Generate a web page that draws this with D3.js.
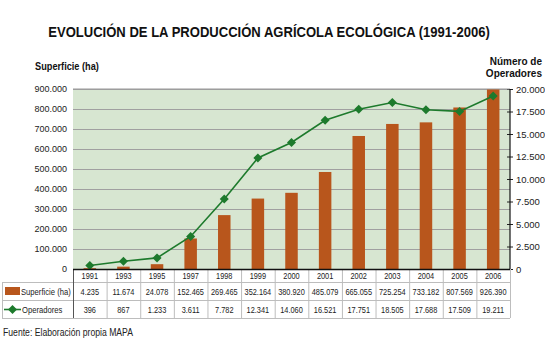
<!DOCTYPE html>
<html>
<head>
<meta charset="utf-8">
<script src="https://cdn.jsdelivr.net/npm/d3@7"></script>
<style>
  body { margin: 0; background: #fff; }
  svg { font-family: "Liberation Sans", Arial, sans-serif; }
</style>
</head>
<body>
<div class="chartWrapper"></div>
<script>
var years = ["1991","1993","1995","1997","1998","1999","2000","2001","2002","2003","2004","2005","2006"];
var superficie = [4235, 11674, 24078, 152465, 269465, 352164, 380920, 485079, 665055, 725254, 733182, 807569, 926390];
var operadores = [396, 867, 1233, 3611, 7782, 12341, 14060, 16521, 17751, 18505, 17688, 17509, 19211];
var leftTicks = [0, 100000, 200000, 300000, 400000, 500000, 600000, 700000, 800000, 900000];
var rightTicks = [0, 2500, 5000, 7500, 10000, 12500, 15000, 17500, 20000];

var width = 545,
    height = 340,
    plot = { left: 73, right: 510, top: 89, bottom: 269 },
    rows = [269, 282, 300, 318],
    orange = "#b8561c",
    green = "#1d7a2c";

var es = d3.formatLocale({ decimal: ",", thousands: ".", grouping: [3], currency: ["", "€"] });
var fmt = es.format(",d");

var svg = d3.select(".chartWrapper")
    .append("svg")
    .attr("width", width)
    .attr("height", height);

// la fuente original es estrecha: se comprime el texto
function condense(sel, k) {
    sel.each(function () {
        var w = this.getComputedTextLength();
        d3.select(this)
            .attr("textLength", w * k)
            .attr("lengthAdjust", "spacingAndGlyphs");
    });
}

var xScale = d3.scaleBand()
    .domain(years)
    .range([plot.left, plot.right]);
var yLeft = d3.scaleLinear()
    .domain([0, 900000])
    .range([plot.bottom, plot.top])
    .clamp(true);
var yRight = d3.scaleLinear()
    .domain([0, 20000])
    .range([plot.bottom, plot.top]);

var mid = function (d) { return xScale(d) + xScale.bandwidth() / 2; };

// titulo (escalado en horizontal para ocupar 442px)
var title = svg.append("text")
    .attr("text-anchor", "middle")
    .style("font-size", "15.5px")
    .style("font-weight", "bold")
    .attr("fill", "#111")
    .text("EVOLUCIÓN DE LA PRODUCCIÓN AGRÍCOLA ECOLÓGICA (1991-2006)");
var titleW = title.node().getComputedTextLength();
title.attr("transform", "translate(269,37) scale(" + (442 / titleW) + ",1)");

svg.append("text")
    .attr("x", 35)
    .attr("y", 70)
    .style("font-size", "10px")
    .style("font-weight", "bold")
    .attr("fill", "#111")
    .text("Superficie (ha)")
    .call(condense, 0.92);

svg.append("text")
    .attr("x", 542)
    .attr("y", 65)
    .attr("text-anchor", "end")
    .style("font-size", "10px")
    .style("font-weight", "bold")
    .attr("fill", "#111")
    .text("Número de");
svg.append("text")
    .attr("x", 542)
    .attr("y", 77)
    .attr("text-anchor", "end")
    .style("font-size", "10px")
    .style("font-weight", "bold")
    .attr("fill", "#111")
    .text("Operadores");

// fondo del area
svg.append("rect")
    .attr("x", plot.left)
    .attr("y", plot.top)
    .attr("width", plot.right - plot.left)
    .attr("height", plot.bottom - plot.top)
    .attr("fill", "#d7e6d1");

// lineas de rejilla
svg.append("g")
    .selectAll("line")
    .data(leftTicks.slice(1))
    .enter()
    .append("line")
    .attr("x1", plot.left)
    .attr("x2", plot.right)
    .attr("y1", function (d) { return yLeft(d) + 0.5; })
    .attr("y2", function (d) { return yLeft(d) + 0.5; })
    .attr("stroke", "#a0a0a0")
    .attr("stroke-width", 1.2);

// eje izquierdo
var yAxisLeft = d3.axisLeft(yLeft)
    .tickValues(leftTicks)
    .tickSize(0)
    .tickPadding(6)
    .tickFormat(fmt);
var gl = svg.append("g")
    .attr("transform", "translate(" + plot.left + ",0)")
    .call(yAxisLeft);
gl.attr("font-family", null);
gl.select(".domain").remove();
gl.selectAll("text")
    .style("font-size", "9px")
    .attr("fill", "#222");

// eje derecho
var yAxisRight = d3.axisRight(yRight)
    .tickValues(rightTicks)
    .tickSize(3)
    .tickPadding(3)
    .tickFormat(fmt);
var gr = svg.append("g")
    .attr("transform", "translate(" + plot.right + ",0)")
    .call(yAxisRight);
gr.attr("font-family", null);
gr.select(".domain").remove();
gr.selectAll(".tick line")
    .attr("x1", -3)
    .attr("stroke", "#222");
gr.selectAll("text")
    .style("font-size", "9.5px")
    .attr("fill", "#222");

// barras
var barW = 12.5;
svg.append("g")
    .selectAll("rect")
    .data(superficie)
    .enter()
    .append("rect")
    .attr("x", function (d, i) { return mid(years[i]) - barW / 2; })
    .attr("y", function (d) { return yLeft(d); })
    .attr("width", barW)
    .attr("height", function (d) { return plot.bottom - yLeft(d); })
    .attr("fill", orange);

// linea de operadores
var linePath = d3.line()
    .x(function (d, i) { return mid(years[i]); })
    .y(function (d) { return yRight(d); });
svg.append("path")
    .attr("d", linePath(operadores))
    .attr("fill", "none")
    .attr("stroke", green)
    .attr("stroke-width", 1.6);

var diamond = d3.symbol().type(d3.symbolDiamond2).size(52);
svg.append("g")
    .selectAll("path")
    .data(operadores)
    .enter()
    .append("path")
    .attr("d", diamond)
    .attr("transform", function (d, i) { return "translate(" + mid(years[i]) + "," + yRight(d) + ")"; })
    .attr("fill", green);

// bordes del area
svg.append("line")
    .attr("x1", plot.left).attr("x2", plot.right)
    .attr("y1", plot.top).attr("y2", plot.top)
    .attr("stroke", "#9a9a9a").attr("stroke-width", 1.2);
svg.append("line")
    .attr("x1", plot.right).attr("x2", plot.right)
    .attr("y1", plot.top).attr("y2", plot.bottom)
    .attr("stroke", "#111").attr("stroke-width", 1.2);

// tabla de datos
var table = svg.append("g");
var gridColor = "#bdbdbd";
[rows[1], rows[2], rows[3]].forEach(function (y) {
    table.append("line")
        .attr("x1", 2).attr("x2", plot.right)
        .attr("y1", y + 0.5).attr("y2", y + 0.5)
        .attr("stroke", gridColor);
});
table.append("line")
    .attr("x1", 2.5).attr("x2", 2.5)
    .attr("y1", rows[1]).attr("y2", rows[3])
    .attr("stroke", gridColor);
table.selectAll(".vline")
    .data(years.concat(["end"]))
    .enter()
    .append("line")
    .attr("x1", function (d) { return (d === "end" ? plot.right : xScale(d)) + 0.5; })
    .attr("x2", function (d) { return (d === "end" ? plot.right : xScale(d)) + 0.5; })
    .attr("y1", rows[0])
    .attr("y2", rows[3])
    .attr("stroke", function (d, i) { return i === 0 ? "#555" : gridColor; });

svg.append("line")
    .attr("x1", plot.left).attr("x2", plot.right)
    .attr("y1", plot.bottom + 0.5).attr("y2", plot.bottom + 0.5)
    .attr("stroke", "#111").attr("stroke-width", 1.4);

function tableRow(values, y, format) {
    table.append("g")
        .selectAll("text")
        .data(values)
        .enter()
        .append("text")
        .attr("x", function (d, i) { return mid(years[i]); })
        .attr("y", y)
        .attr("text-anchor", "middle")
        .style("font-size", "9px")
        .attr("fill", "#222")
        .text(format)
        .call(condense, 0.82);
}
tableRow(years, 279, function (d) { return d; });
tableRow(superficie, 295, fmt);
tableRow(operadores, 313, fmt);

// leyenda dentro de la tabla
table.append("rect")
    .attr("x", 5).attr("y", 287)
    .attr("width", 15).attr("height", 8)
    .attr("fill", orange);
table.append("text")
    .attr("x", 21).attr("y", 295)
    .style("font-size", "9px")
    .attr("fill", "#222")
    .text("Superficie (ha)")
    .call(condense, 0.85);
table.append("line")
    .attr("x1", 4).attr("x2", 21)
    .attr("y1", 309.5).attr("y2", 309.5)
    .attr("stroke", green).attr("stroke-width", 1.6);
table.append("path")
    .attr("d", diamond)
    .attr("transform", "translate(12.5,309.5)")
    .attr("fill", green);
table.append("text")
    .attr("x", 22).attr("y", 313)
    .style("font-size", "9px")
    .attr("fill", "#222")
    .text("Operadores")
    .call(condense, 0.85);

// fuente
svg.append("text")
    .attr("x", 3)
    .attr("y", 336)
    .attr("textLength", 130)
    .attr("lengthAdjust", "spacingAndGlyphs")
    .style("font-size", "10px")
    .attr("fill", "#222")
    .text("Fuente: Elaboración propia MAPA");
</script>
</body>
</html>
